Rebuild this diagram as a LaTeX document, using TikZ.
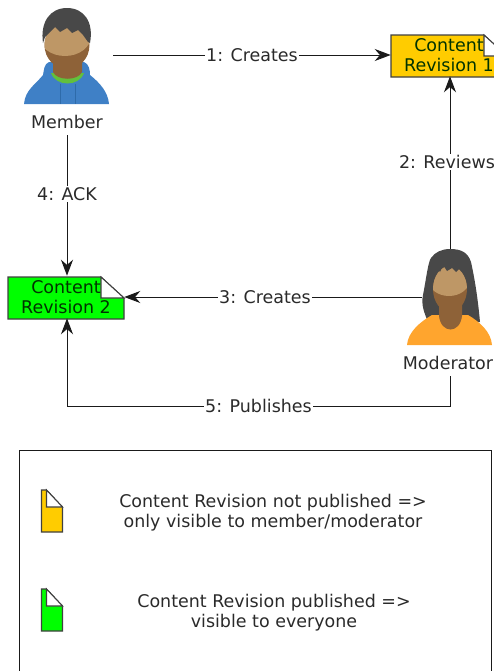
\documentclass[tikz,border=0pt]{standalone}
\usepackage{fontspec}
\setmainfont{DejaVu Sans}
\usetikzlibrary{arrows.meta}
\definecolor{notpublished}{HTML}{FFCC00}
\definecolor{published}{HTML}{00FF00}
\definecolor{linecol}{HTML}{1A1A1A}
\definecolor{textcol}{HTML}{2A2A2A}
\definecolor{hair}{HTML}{484848}
\definecolor{skin}{HTML}{8E6238}
\definecolor{skinlight}{HTML}{BE9766}
\definecolor{hood}{HTML}{3F80C6}
\definecolor{hooddark}{HTML}{2E6BAA}
\definecolor{collar}{HTML}{62C03C}
\definecolor{shirt}{HTML}{FFA52E}
\tikzset{
  word/.style={font=\fontsize{13.1pt}{15pt}\selectfont, text=textcol, align=center, inner sep=1pt},
  msg/.style={word, fill=white},
  arrow/.style={draw=linecol, line width=.75pt, -{Stealth[length=12pt,width=9pt]}},
  doc/.style={font=\fontsize{13.1pt}{15pt}\selectfont, text=black!80!published, align=center, inner sep=0pt, minimum width=87pt, minimum height=31.5pt},
  person/.style={inner sep=0pt, minimum width=42pt},
  sheet/.style={draw=black!75, line width=.8pt}
}
% page sheet with folded corner: name, x, y, width, height, fold x, fold y, colour
\newcommand{\foldedsheet}[8]{
  \fill[#8, sheet] (#2,#3) -- (#2+#6,#3) -- (#2+#4,#3+#7) -- (#2+#4,#3+#5) -- (#2,#3+#5) -- cycle;
  \fill[white, sheet] (#2+#6,#3) -- (#2+#4,#3+#7) -- (#2+#6,#3+#7) -- cycle;
  \coordinate (#1) at (#2+#4/2,#3+#5/2);
}
\begin{document}
\begin{tikzpicture}[x=.75pt,y=-.75pt]
  \useasboundingbox (0,0) rectangle (493,671);

  \foldedsheet{doc1}{391}{35}{116}{42}{93}{21}{notpublished}
  \foldedsheet{doc2}{8}{277}{116}{42}{93}{21}{published}
  \node (doc1text) at (449,55) [doc] {Content\\Revision 1};
  \node (doc2text) at (66,297) [doc] {Content\\Revision 2};

  \node (member) at (67,55) [person, minimum width=69pt, minimum height=75pt] {};
  \node (moderator) at (450,297) [person, minimum height=72pt] {};
  \node (memberlabel) at (67,122) [word] {Member};
  \node (moderatorlabel) at (448,363) [word] {Moderator};

  \draw[arrow] (member.east) -- node[msg] {1: Creates} (member.east -| doc1text.west);
  \draw[arrow] (moderator.north) -- node[msg, pos=.505, xshift=-2.25pt] {2: Reviews} (moderator.north |- doc1text.south);
  \draw[arrow] (moderator.west) -- node[msg, pos=.527] {3: Creates} (moderator.west -| doc2text.east);
  \draw[arrow] (memberlabel.south) ++(0,5) coordinate (ackstart) (ackstart) -- node[msg, pos=.42] {4: ACK} (ackstart |- doc2text.north);
  \draw[arrow] (moderator |- moderatorlabel.south) ++(0,5) coordinate (pubstart) (pubstart) -- (450,406) coordinate (pubcorner) -- node[msg, pos=.5] {5: Publishes} (67,406) coordinate (pubturn) -- (pubturn |- doc2text.south);

  % member
  \fill[hood] (24,104) .. controls (25,90) and (36,84) .. (43,75) .. controls (44,70) and (44,64) .. (49,62) -- (84,62) .. controls (89,64) and (90,70) .. (90,75) .. controls (100,83) and (108,92) .. (109,104) -- cycle;
  \draw[hooddark, line width=.5pt] (60,84) -- (60,104) (75,84) -- (75,104);
  \fill[collar] (51,73) .. controls (56,87) and (79,87) .. (84,73) -- cycle;
  \fill[skin] (53,56) -- (82,56) -- (82,72) .. controls (78,81) and (57,81) .. (53,72) -- cycle;
  \fill[skin] (67,45) ellipse [x radius=22.5, y radius=24];
  \begin{scope}
    \clip (67,45) ellipse [x radius=22.5, y radius=24];
    \fill[skinlight] (65,36) ellipse [x radius=26, y radius=20];
  \end{scope}
  \fill[hair] (43,43) .. controls (40,22) and (50,8) .. (67,8) .. controls (84,8) and (94,22) .. (90,43) -- (88,42) -- (83,35) -- (78,30) -- (72,33) -- (67,28) -- (60,32) -- (55,27) -- (49,33) -- (45,37) -- cycle;

  % moderator
  \fill[hair] (450,249) .. controls (462,249) and (468,253) .. (471,262) .. controls (475,280) and (478,300) .. (480,322) -- (428,322) .. controls (424,312) and (421,305) .. (423,295) .. controls (426,280) and (428,262) .. (431,258) .. controls (435,252) and (442,249) .. (450,249) -- cycle;
  \fill[shirt] (407,345) .. controls (408,332) and (420,322) .. (432,315) -- (468,315) .. controls (480,322) and (491,332) .. (492,345) -- cycle;
  \fill[skin] (439,296) -- (462,296) -- (462,316) .. controls (460,334) and (441,334) .. (439,316) -- cycle;
  \fill[skin] (450,289) ellipse [x radius=17, y radius=23];
  \begin{scope}
    \clip (450,289) ellipse [x radius=17, y radius=23];
    \fill[skinlight] (449,279) ellipse [x radius=21, y radius=17];
  \end{scope}
  \fill[hair] (433,280) -- (437,267) -- (440,272) -- (443,265) -- (447,271) -- (452,268) -- (456,272) -- (460,268) -- (467,280) -- (467,260) -- (433,260) -- cycle;

  % legend
  \node (legend) at (255,565) [draw=linecol, line width=.75pt, minimum width=354pt, minimum height=172pt] {};
  \foldedsheet{icon1}{41.5}{490}{21}{42}{5}{17}{notpublished}
  \foldedsheet{icon2}{41.5}{589}{21}{42}{5}{17}{published}
  \node (legendtext1) at (273,513) [word] {Content Revision not published =>\\only visible to member/moderator};
  \node (legendtext2) at (274,613) [word] {Content Revision published =>\\visible to everyone};
\end{tikzpicture}
\end{document}
